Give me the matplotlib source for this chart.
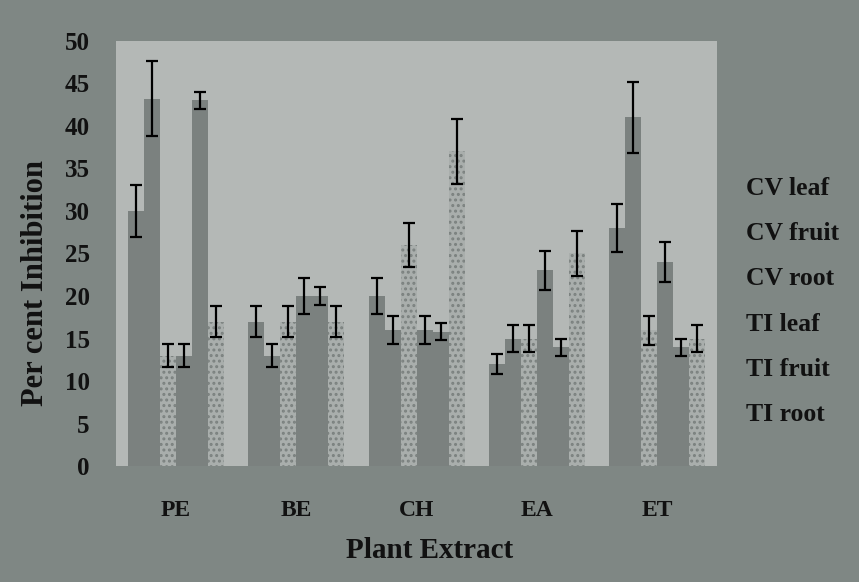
import numpy as np
import matplotlib
matplotlib.use("Agg")
import matplotlib.pyplot as plt

groups = ["PE", "BE", "CH", "EA", "ET"]
series = ["CV leaf", "CV fruit", "CV root", "TI leaf", "TI fruit", "TI root"]
cv_leaf = [30.0, 17.0, 20.0, 12.0, 28.0]
cv_fruit = [43.2, 13.0, 16.0, 15.0, 41.0]
cv_root = [13.0, 17.0, 26.0, 15.0, 16.0]
ti_leaf = [13.0, 20.0, 16.0, 23.0, 24.0]
ti_fruit = [43.0, 20.0, 15.8, 14.0, 14.0]
ti_root = [17.0, 17.0, 37.0, 25.0, 15.0]
cv_leaf_err = [3.1, 1.8, 2.1, 1.2, 2.8]
cv_fruit_err = [4.4, 1.4, 1.6, 1.6, 4.2]
cv_root_err = [1.4, 1.8, 2.6, 1.6, 1.7]
ti_leaf_err = [1.4, 2.1, 1.6, 2.3, 2.4]
ti_fruit_err = [1.0, 1.0, 1.0, 1.0, 1.0]
ti_root_err = [1.8, 1.8, 3.8, 2.6, 1.6]
y_ticks = [0, 5, 10, 15, 20, 25, 30, 35, 40, 45, 50]

values = [cv_leaf, cv_fruit, cv_root, ti_leaf, ti_fruit, ti_root]
errors = [cv_leaf_err, cv_fruit_err, cv_root_err, ti_leaf_err, ti_fruit_err, ti_root_err]

plt.rcParams['hatch.linewidth'] = 1.4
serif = ["Liberation Serif", "DejaVu Serif"]

outer = "#7f8784"
panel = "#b4b8b6"
dark = "#7b817f"
light = "#a9aeac"

fig = plt.figure(figsize=(8.59, 5.82), dpi=100, facecolor=outer)
ax = fig.add_axes([0.135, 0.199, 0.700, 0.731])
ax.set_facecolor(panel)

x = np.arange(len(groups))
w = 0.133
handles = []
for i, (vals, errs, name) in enumerate(zip(values, errors, series)):
    off = (i - 2.5) * w
    speck = name.endswith("root")
    b = ax.bar(x + off, vals, w,
               color=light if speck else dark,
               edgecolor=dark,
               hatch='...' if speck else None,
               linewidth=0, label=name)
    ax.errorbar(x + off, vals, yerr=errs, fmt='none', ecolor='black',
                elinewidth=1.6, capsize=4.5, capthick=1.6)
    handles.append(b)

ax.set_xlim(-0.5, 4.5)
ax.set_ylim(0, 50)
ax.set_yticks(y_ticks)
ax.set_yticklabels([str(t) for t in y_ticks], family=serif, fontweight='bold',
                   fontsize=18, color='#111111')
ax.set_xticks(x)
ax.set_xticklabels(groups, family=serif, fontweight='bold', fontsize=17,
                   color='#111111')
ax.tick_params(axis='y', length=0, pad=19)
ax.tick_params(axis='x', length=0, pad=24)
for s in ax.spines.values():
    s.set_visible(False)

ax.set_ylabel("Per cent Inhibition", family=serif, fontweight='bold',
              fontsize=22, color='#111111')
ax.yaxis.set_label_coords(-0.110, 0.43)
ax.set_xlabel("Plant Extract", family=serif, fontweight='bold',
              fontsize=21, color='#111111')
ax.xaxis.set_label_coords(0.522, -0.167)

leg = fig.legend(handles=handles, labels=series, loc='center left',
                 bbox_to_anchor=(0.841, 0.482), frameon=False,
                 handlelength=0, handletextpad=0, labelspacing=0.86,
                 prop={'family': serif, 'weight': 'bold', 'size': 18.5})
for h in leg.legend_handles:
    h.set_visible(False)
for t in leg.get_texts():
    t.set_color('#111111')

fig.savefig("out.png", dpi=100, facecolor=outer)
